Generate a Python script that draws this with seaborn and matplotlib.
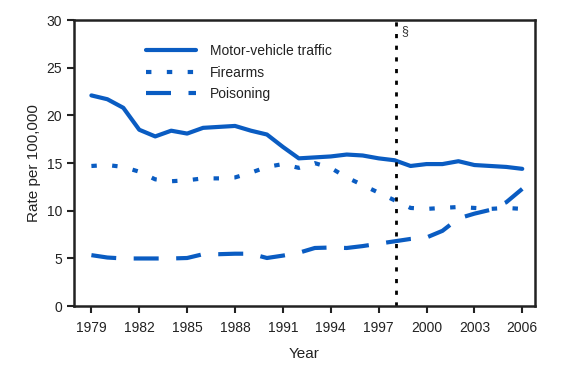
import numpy as np
import pandas as pd
import seaborn as sns
import matplotlib
matplotlib.use("Agg")
import matplotlib.pyplot as plt

years = list(range(1979, 2007))
motor_vehicle = [22.1, 21.7, 20.8, 18.5, 17.8, 18.4, 18.1, 18.7, 18.8, 18.9, 18.4, 18.0,
                 16.7, 15.5, 15.6, 15.7, 15.9, 15.8, 15.5, 15.3, 14.7, 14.9, 14.9, 15.2,
                 14.8, 14.7, 14.6, 14.4]
firearms = [14.7, 14.8, 14.6, 14.1, 13.3, 13.1, 13.2, 13.4, 13.4, 13.5, 14.0, 14.6,
            14.9, 14.5, 15.0, 14.5, 13.5, 12.7, 11.9, 11.1, 10.3, 10.2, 10.3, 10.4,
            10.3, 10.2, 10.3, 10.2]
poisoning = [5.35, 5.1, 5.0, 5.0, 5.0, 5.0, 5.05, 5.45, 5.45, 5.5, 5.5, 5.05,
             5.3, 5.6, 6.1, 6.15, 6.1, 6.3, 6.55, 6.8, 7.05, 7.2, 7.9, 9.2,
             9.7, 10.1, 10.9, 12.3]
series_names = ["Motor-vehicle traffic", "Firearms", "Poisoning"]
x_ticks = list(range(1979, 2007, 3))
y_ticks = [0, 5, 10, 15, 20, 25, 30]

df = pd.DataFrame({"Year": years * 3,
                   "Rate": motor_vehicle + firearms + poisoning,
                   "Cause": [n for n in series_names for _ in years]})

sns.set_theme(style="ticks")
plt.rcParams["font.family"] = ["Liberation Sans", "DejaVu Sans"]

blue = "#0a5cc2"
fig, ax = plt.subplots(figsize=(5.86, 3.72), dpi=100)
fig.subplots_adjust(left=0.126, right=0.913, top=0.946, bottom=0.177)

styles = {"Motor-vehicle traffic": "-", "Firearms": (0, (1.3, 3.7)), "Poisoning": (0, (6, 4.2))}
for name in series_names:
    sub = df[df["Cause"] == name]
    sns.lineplot(data=sub, x="Year", y="Rate", ax=ax, color=blue, lw=3,
                 linestyle=styles[name], label=name)

ax.axvline(1998.1, color="black", lw=2, linestyle=(0, (1.5, 2.7)))
ax.text(1998.4, 29.5, "§", fontsize=9, va="top", ha="left", color="#333333")

ax.set_xlim(1977.9, 2006.8)
ax.set_ylim(0, 30)
ax.set_xticks(x_ticks)
ax.set_yticks(y_ticks)
ax.set_xlabel("Year", fontsize=11, color="#222222", labelpad=8)
ax.set_ylabel("Rate per 100,000", fontsize=11, color="#222222")
ax.tick_params(labelsize=10, colors="#222222", length=5, width=1.5)
ax.tick_params(axis="x", pad=6)
for s in ax.spines.values():
    s.set_linewidth(1.8)
    s.set_color("#222222")

leg = ax.legend(loc="upper left", bbox_to_anchor=(0.13, 0.96), frameon=False,
                fontsize=10, handlelength=3.6, handletextpad=1.0, labelspacing=0.55)
for t in leg.get_texts():
    t.set_color("#222222")

fig.savefig("out.png", dpi=100)
